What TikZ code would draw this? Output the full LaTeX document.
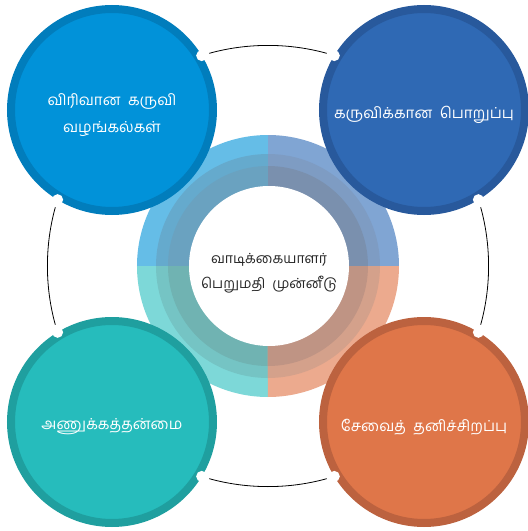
\documentclass[tikz,border=0pt]{standalone}
\usepackage{fontspec}
\newfontfamily\tamilfont[Script=Tamil]{Hind Madurai}
\usepackage{xcolor}
\usepackage{tikz}

\definecolor{tlFill}{HTML}{0192D9}
\definecolor{tlEdge}{HTML}{017DBC}
\definecolor{trFill}{HTML}{2F69B4}
\definecolor{trEdge}{HTML}{28599C}
\definecolor{blFill}{HTML}{26BCBC}
\definecolor{blEdge}{HTML}{1F9F9F}
\definecolor{brFill}{HTML}{DF7649}
\definecolor{brEdge}{HTML}{BC623F}
\definecolor{tlA}{HTML}{65BDE7}
\definecolor{tlB}{HTML}{65AACD}
\definecolor{tlC}{HTML}{6AA2C0}
\definecolor{trA}{HTML}{80A5D3}
\definecolor{trB}{HTML}{7E9CC3}
\definecolor{trC}{HTML}{7A90AE}
\definecolor{blA}{HTML}{7DD8D8}
\definecolor{blB}{HTML}{75C4C4}
\definecolor{blC}{HTML}{70B3B2}
\definecolor{brA}{HTML}{ECAA8E}
\definecolor{brB}{HTML}{D4A18B}
\definecolor{brC}{HTML}{BF9484}

\begin{document}
\begin{tikzpicture}[
  x=1pt, y=1pt,
  bigcircle/.style={circle, minimum size=202pt, inner sep=0pt, outer sep=0pt,
    line width=8pt},
  bigtext/.style={align=center, text=white, inner sep=0pt,
    font={\tamilfont\fontsize{15.2pt}{27pt}\selectfont}},
  core/.style={circle, fill=white, minimum size=160pt, inner sep=0pt},
  coretext/.style={align=center, text=black!85, inner sep=0pt,
    font={\tamilfont\fontsize{14pt}{25pt}\selectfont}},
  orbit/.style={draw=black, line width=0.8pt},
  dot/.style={circle, fill=white, minimum size=11pt, inner sep=0pt},
  halo/.style={circle, fill=white, minimum size=16pt, inner sep=0pt}
]
\useasboundingbox (-268,-265) rectangle (260,266);

\draw[orbit] (0,0) circle[radius=220.6];
\foreach \a in {17.5,72.5,107.5,162.5,197.5,252.5,287.5,342.5}
  \node[halo] at (\a:220.6) {};

\foreach \ang/\ca/\cb/\cc in {0/trA/trB/trC, 90/tlA/tlB/tlC,
    180/blA/blB/blC, 270/brA/brB/brC} {
  \fill[\ca] (0,0) -- (\ang:131) arc[start angle=\ang, end angle=\ang+90, radius=131] -- cycle;
  \fill[\cb] (0,0) -- (\ang:112) arc[start angle=\ang, end angle=\ang+90, radius=112] -- cycle;
  \fill[\cc] (0,0) -- (\ang:100) arc[start angle=\ang, end angle=\ang+90, radius=100] -- cycle;
}
\node[core] (hub) at (1,0) {};
\node[coretext] (hubText) at ([yshift=-7pt]hub.center)
  {வாடிக்கையாளர்\\பெறுமதி\ \ முன்னீடு};

\node[bigcircle, fill=tlFill, draw=tlEdge] (range) at (-156,156) {};
\node[bigcircle, fill=trFill, draw=trEdge] (duty) at (156,156) {};
\node[bigcircle, fill=blFill, draw=blEdge] (reach) at (-156,-156) {};
\node[bigcircle, fill=brFill, draw=brEdge] (service) at (156,-156) {};

\node[bigtext] (rangeText) at ([yshift=-5pt]range.center)
  {விரிவான\ \ கருவி\\வழங்கல்கள்};
\node[bigtext] (dutyText) at ([yshift=-5pt]duty.center)
  {கருவிக்கான\ \ பொறுப்பு};
\node[bigtext] (reachText) at ([yshift=-5pt]reach.center)
  {அணுக்கத்தன்மை};
\node[bigtext] (serviceText) at ([yshift=-5pt]service.center)
  {சேவைத்\ \ தனிச்சிறப்பு};

\foreach \a in {17.5,72.5,107.5,162.5,197.5,252.5,287.5,342.5}
  \node[dot] at (\a:220.6) {};
\end{tikzpicture}
\end{document}
